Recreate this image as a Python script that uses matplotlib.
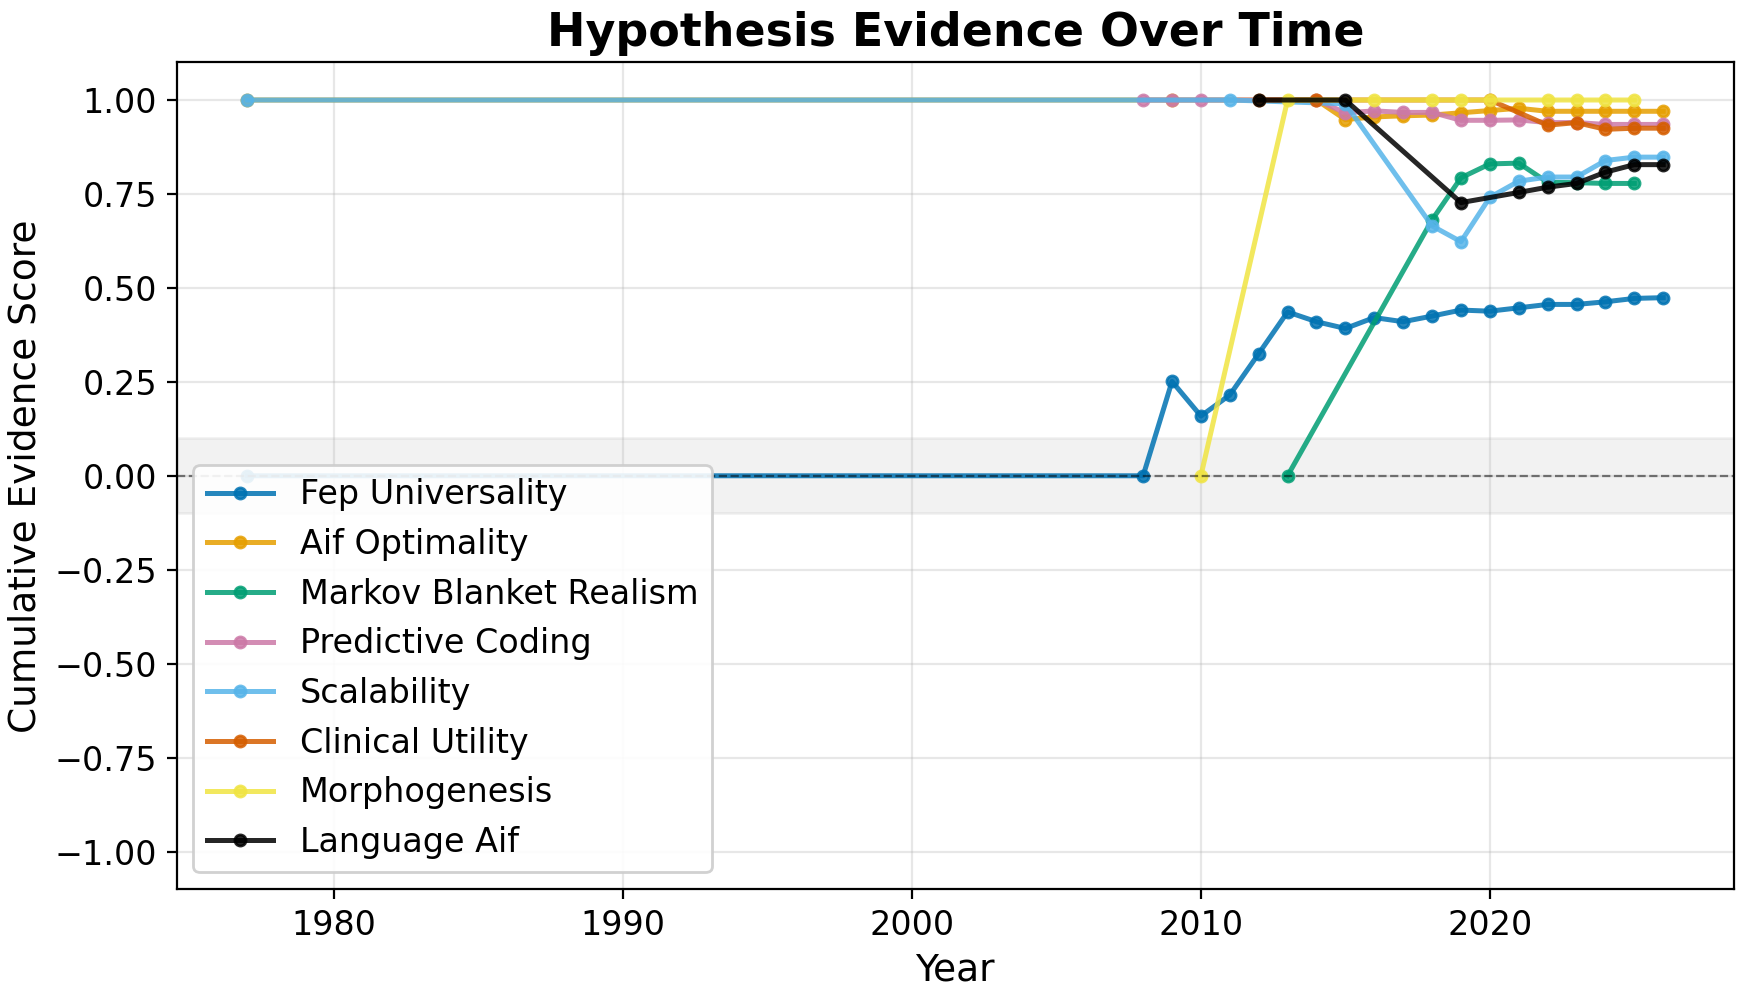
import matplotlib
matplotlib.use('Agg')
import matplotlib.pyplot as plt

# cumulative evidence per hypothesis
fep_years = [1977, 2008, 2009, 2010, 2011, 2012, 2013, 2014, 2015, 2016, 2017, 2018,
             2019, 2020, 2021, 2022, 2023, 2024, 2025, 2026]
fep_vals = [0.0, 0.0, 0.251, 0.159, 0.215, 0.325, 0.436, 0.41, 0.392, 0.421, 0.41, 0.425,
            0.441, 0.438, 0.447, 0.456, 0.456, 0.463, 0.472, 0.474]

aif_years = [1977, 2009, 2014, 2015, 2016, 2017, 2018, 2019, 2020, 2021, 2022, 2023, 2024, 2025, 2026]
aif_vals = [1.0, 1.0, 1.0, 0.948, 0.955, 0.958, 0.96, 0.966, 0.972, 0.978, 0.97, 0.97, 0.97, 0.97, 0.97]

markov_years = [2013, 2018, 2019, 2020, 2021, 2022, 2023, 2024, 2025]
markov_vals = [0.0, 0.681, 0.793, 0.830, 0.832, 0.781, 0.780, 0.778, 0.778]

pc_years = [2008, 2009, 2010, 2014, 2015, 2016, 2017, 2018, 2019, 2020, 2021, 2022, 2023, 2024, 2025, 2026]
pc_vals = [1.0, 1.0, 1.0, 1.0, 0.966, 0.971, 0.967, 0.967, 0.946, 0.946, 0.947, 0.94, 0.94, 0.935, 0.935, 0.935]

scal_years = [1977, 2011, 2015, 2018, 2019, 2020, 2021, 2022, 2023, 2024, 2025, 2026]
scal_vals = [1.0, 1.0, 0.99, 0.665, 0.623, 0.741, 0.784, 0.795, 0.795, 0.839, 0.848, 0.848]

clin_years = [2012, 2014, 2020, 2022, 2023, 2024, 2025, 2026]
clin_vals = [1.0, 1.0, 1.0, 0.933, 0.940, 0.922, 0.925, 0.925]

morph_years = [2010, 2013, 2016, 2018, 2019, 2020, 2022, 2023, 2024, 2025]
morph_vals = [0.0, 1.0, 1.0, 1.0, 1.0, 1.0, 1.0, 1.0, 1.0, 1.0]

lang_years = [2012, 2015, 2019, 2021, 2022, 2023, 2024, 2025, 2026]
lang_vals = [1.0, 1.0, 0.727, 0.754, 0.768, 0.778, 0.808, 0.828, 0.828]

names = ['Fep Universality', 'Aif Optimality', 'Markov Blanket Realism', 'Predictive Coding',
         'Scalability', 'Clinical Utility', 'Morphogenesis', 'Language Aif']
colors = ['#0072B2', '#E69F00', '#009E73', '#CC79A7', '#56B4E9', '#D55E00', '#F0E442', '#000000']
series = [(fep_years, fep_vals), (aif_years, aif_vals), (markov_years, markov_vals),
          (pc_years, pc_vals), (scal_years, scal_vals), (clin_years, clin_vals),
          (morph_years, morph_vals), (lang_years, lang_vals)]


fig, ax = plt.subplots(figsize=(8.74, 4.995), dpi=200)
fig.subplots_adjust(left=0.101, right=0.992, top=0.9375, bottom=0.11)

for (xs, ys), name, col in zip(series, names, colors):
    ax.plot(xs, ys, marker='o', markersize=4, linewidth=1.8, color=col, alpha=0.85, label=name)

ax.axhline(0, color='black', linestyle='--', linewidth=0.8, alpha=0.5)
ax.axhspan(-0.1, 0.1, color='gray', alpha=0.1)

ax.set_ylim(-1.1, 1.1)
ax.set_xlabel('Year', fontsize=13.5)
ax.set_ylabel('Cumulative Evidence Score', fontsize=13.5)
ax.set_title('Hypothesis Evidence Over Time', fontsize=16.5, fontweight='bold')
ax.tick_params(labelsize=12)
ax.grid(True, alpha=0.3)
ax.legend(loc='lower left', fontsize=12, framealpha=0.9)

fig.savefig('out.png', dpi=200)
